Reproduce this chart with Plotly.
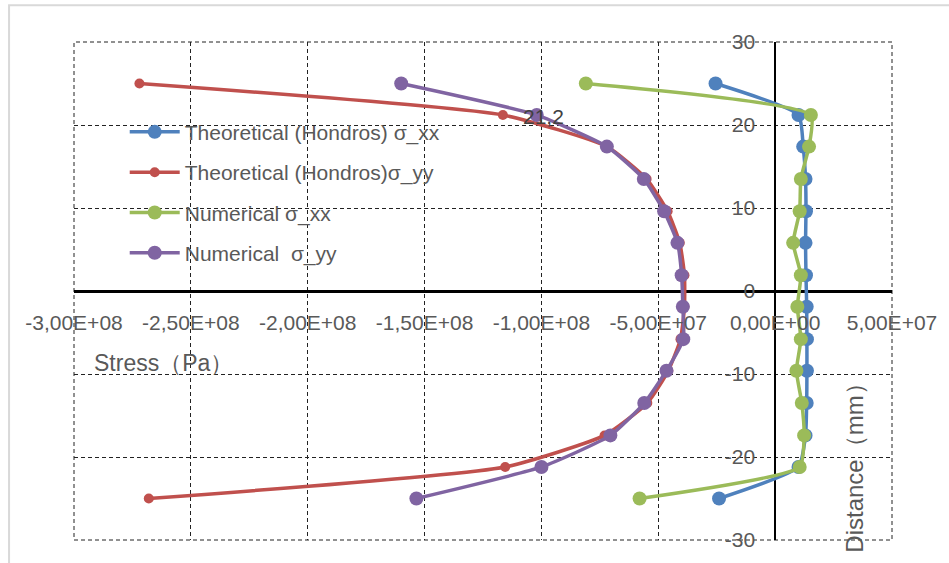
import plotly.graph_objects as go

# ---------------- data ----------------
distance = [25, 21.2, 17.4, 13.5, 9.6, 5.8, 1.9, -1.9, -5.8, -9.6, -13.5, -17.4, -21.2, -25]
theo_xx = [-2.55e7, 1.0e7, 1.2e7, 1.3e7, 1.32e7, 1.3e7, 1.32e7, 1.35e7, 1.36e7, 1.36e7, 1.35e7, 1.3e7, 1.0e7, -2.4e7]
theo_yy = [-2.72e8, -1.165e8, -7.2e7, -5.5e7, -4.6e7, -4.08e7, -3.88e7, -3.88e7, -4.05e7, -4.57e7, -5.47e7, -7.3e7, -1.155e8, -2.68e8]
num_xx = [-8.1e7, 1.53e7, 1.45e7, 1.1e7, 1.05e7, 7.7e6, 1.1e7, 9.5e6, 1.1e7, 9.1e6, 1.14e7, 1.24e7, 1.05e7, -5.8e7]
num_yy = [-1.6e8, -1.02e8, -7.2e7, -5.62e7, -4.75e7, -4.18e7, -4.0e7, -3.95e7, -3.93e7, -4.65e7, -5.6e7, -7.05e7, -1.0e8, -1.535e8]

names = ["Theoretical (Hondros) σ_xx", "Theoretical (Hondros)σ_yy", "Numerical σ_xx", "Numerical  σ_yy"]
series = [theo_xx, theo_yy, num_xx, num_yy]
colors = ["#4F81BD", "#C0504D", "#9BBB59", "#8064A2"]
msizes = [14, 10, 14, 14]

x_tickvals = [-3e8, -2.5e8, -2e8, -1.5e8, -1e8, -5e7, 0, 5e7]
x_ticktext = ["-3,00E+08", "-2,50E+08", "-2,00E+08", "-1,50E+08", "-1,00E+08", "-5,00E+07", "0,00E+00", "5,00E+07"]
y_tickvals = [-30, -20, -10, 0, 10, 20, 30]
y_ticktext = ["-30", "-20", "-10", "0", "10", "20", "30"]

label_index = 1  # data label shown on theoretical sigma_yy point

FONT = "Liberation Sans"
GRAY = "#595959"
GRID = "#222222"
DASH = "4px,3px"

fig = go.Figure()
for i, (nm, s) in enumerate(zip(names, series)):
    fig.add_trace(go.Scatter(
        x=s, y=distance, name=nm, mode="lines+markers",
        line=dict(color=colors[i], width=3.5, shape="spline", smoothing=0.5),
        marker=dict(color=colors[i], size=msizes[i]),
        legendgroup=f"g{i}",
    ))

fig.add_annotation(
    x=theo_yy[label_index], y=distance[label_index],
    text=f"{distance[label_index]}".replace(".", ","),
    showarrow=False, xanchor="left", yanchor="middle", xshift=18, yshift=-1,
    font=dict(family=FONT, size=21, color="#404040"),
)

fig.add_annotation(
    x=0.022, y=0.355, xref="paper", yref="paper", text="Stress（Pa）",
    showarrow=False, xanchor="left", yanchor="middle",
    font=dict(family=FONT, size=23, color=GRAY),
)
fig.add_annotation(
    x=0.954, y=0.156, xref="paper", yref="paper", text="Distance（mm）",
    showarrow=False, textangle=-90, xanchor="center", yanchor="middle",
    font=dict(family=FONT, size=24, color=GRAY),
)

# outer light border of chart area
fig.add_shape(type="rect", xref="paper", yref="paper",
              x0=-0.0794, y0=-0.06, x1=1.2, y1=1.0739,
              line=dict(color="#D9D9D9", width=2), layer="below")
# dashed border of plot area (edge gridlines)
fig.add_shape(type="rect", xref="paper", yref="paper",
              x0=0, y0=0, x1=1, y1=1,
              line=dict(color=GRID, width=1, dash=DASH), layer="below")

fig.update_layout(
    width=949, height=563,
    margin=dict(l=74, r=56, t=42, b=20),
    paper_bgcolor="white", plot_bgcolor="white",
    font=dict(family=FONT, size=21, color=GRAY),
    showlegend=True,
    legend=dict(x=0.062, y=0.86, xanchor="left", yanchor="top",
                bgcolor="rgba(0,0,0,0)", font=dict(family=FONT, size=21, color=GRAY),
                tracegroupgap=10, itemwidth=50),
    xaxis=dict(
        range=[-3e8, 5e7], tickvals=x_tickvals, ticktext=x_ticktext,
        showgrid=True, gridcolor=GRID, griddash=DASH, gridwidth=1,
        zeroline=True, zerolinecolor="black", zerolinewidth=1.5,
        showline=False, ticks="", anchor="free", position=0.5,
        ticklabelstandoff=17, tickfont=dict(family=FONT, size=21, color=GRAY),
    ),
    yaxis=dict(
        range=[-30, 30], tickvals=y_tickvals, ticktext=y_ticktext,
        showgrid=True, gridcolor=GRID, griddash=DASH, gridwidth=1,
        zeroline=True, zerolinecolor="black", zerolinewidth=2.5,
        showline=False, ticks="", anchor="free", position=3e8 / 3.5e8,
        ticklabelstandoff=20, tickfont=dict(family=FONT, size=21, color=GRAY),
    ),
)

fig.write_html("out.html")
